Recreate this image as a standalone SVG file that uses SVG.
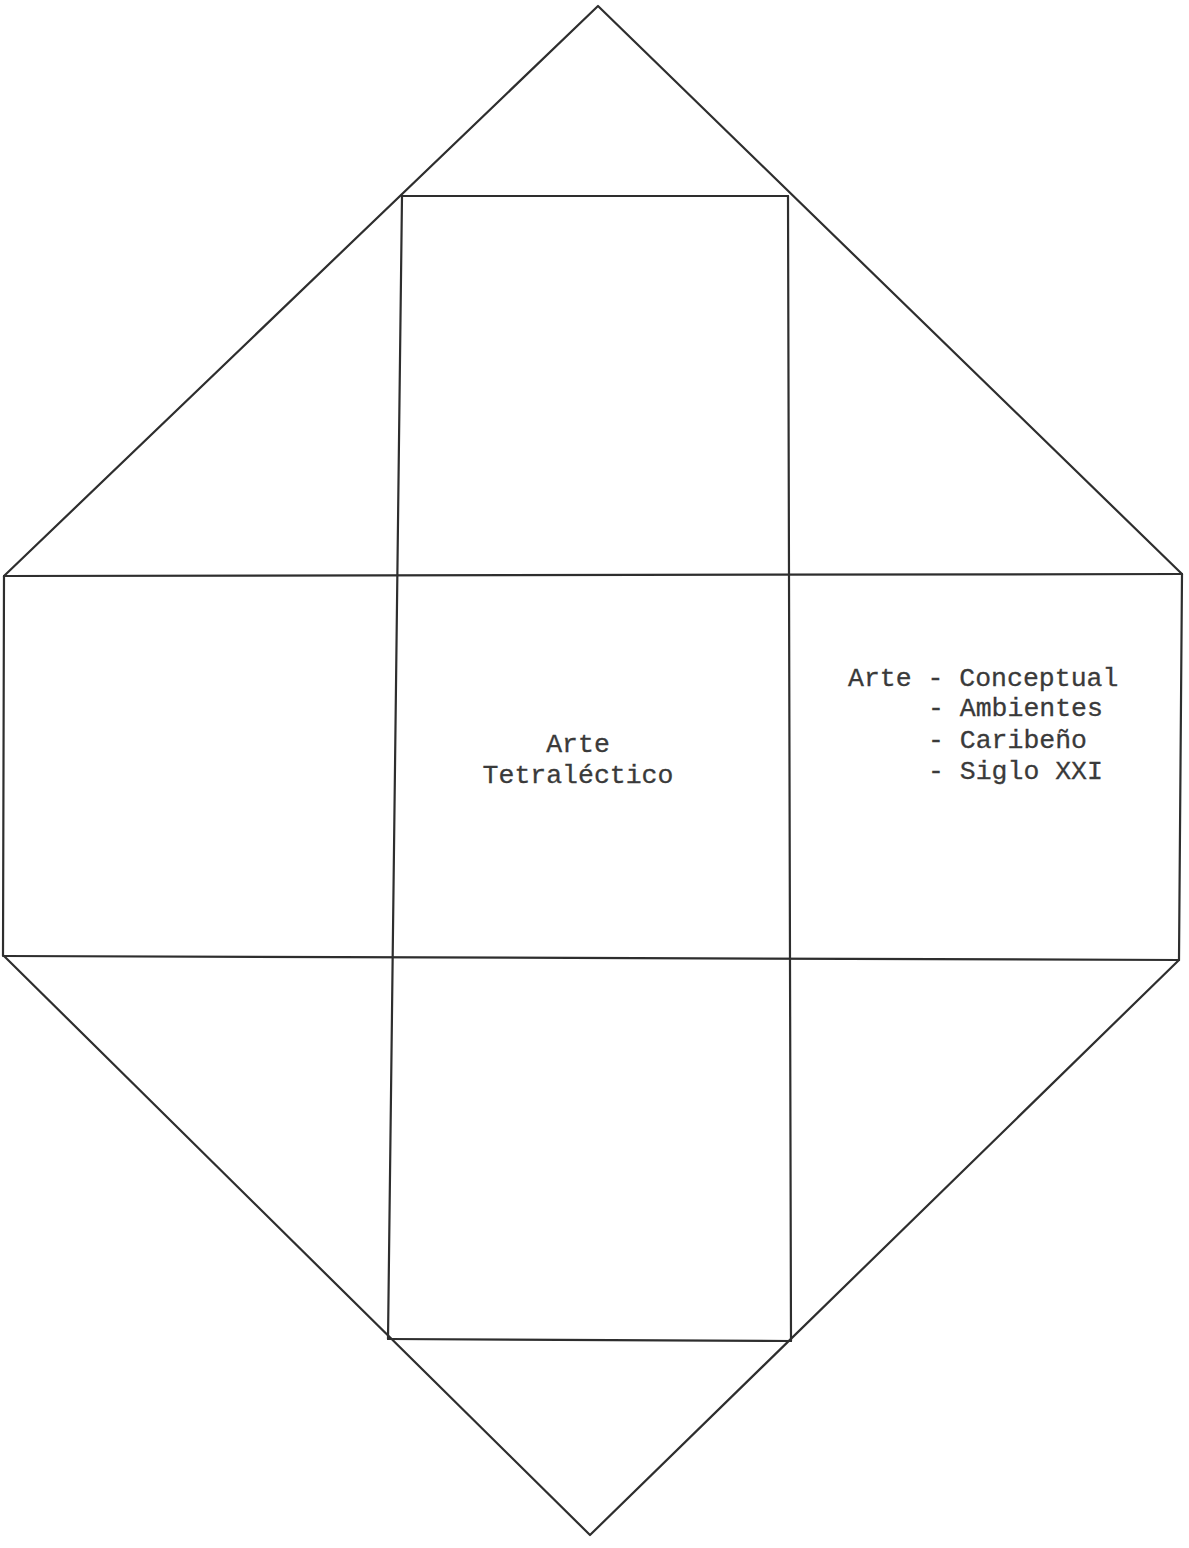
<svg xmlns="http://www.w3.org/2000/svg" width="1189" height="1548" viewBox="0 0 1189 1548">
<style>
.ln{fill:none;stroke:#2e2e2e;stroke-width:2.2;stroke-linecap:round;stroke-linejoin:round}
.tx{font-family:"Liberation Mono","Courier New",monospace;font-size:26.5px;fill:#3a3a3a;stroke:#3a3a3a;stroke-width:0.3}
</style>
<rect width="1189" height="1548" fill="#fff"/>
<g id="outline" class="ln">
<polyline points="4,576 598,6 1182,574"/>
<polyline points="4,956 590,1535 1179,960"/>
<line x1="4" y1="576" x2="3" y2="956"/>
<line x1="1182" y1="574" x2="1179" y2="960"/>
</g>
<g id="grid" class="ln">
<line x1="4" y1="576" x2="1182" y2="574"/>
<line x1="4" y1="956" x2="1179" y2="960"/>
<line x1="402" y1="196" x2="788" y2="196"/>
<line x1="388" y1="1339" x2="791" y2="1341"/>
<line x1="402" y1="196" x2="388" y2="1339"/>
<line x1="788" y1="196" x2="791" y2="1341"/>
</g>
<g id="center-label" class="tx">
<text x="578" y="752" text-anchor="middle">Arte</text>
<text x="578" y="783" text-anchor="middle">Tetraléctico</text>
</g>
<g id="right-label" class="tx">
<text x="848" y="686">Arte - Conceptual</text>
<text x="928" y="716">- Ambientes</text>
<text x="928" y="748">- Caribeño</text>
<text x="928" y="779">- Siglo XXI</text>
</g>
</svg>
